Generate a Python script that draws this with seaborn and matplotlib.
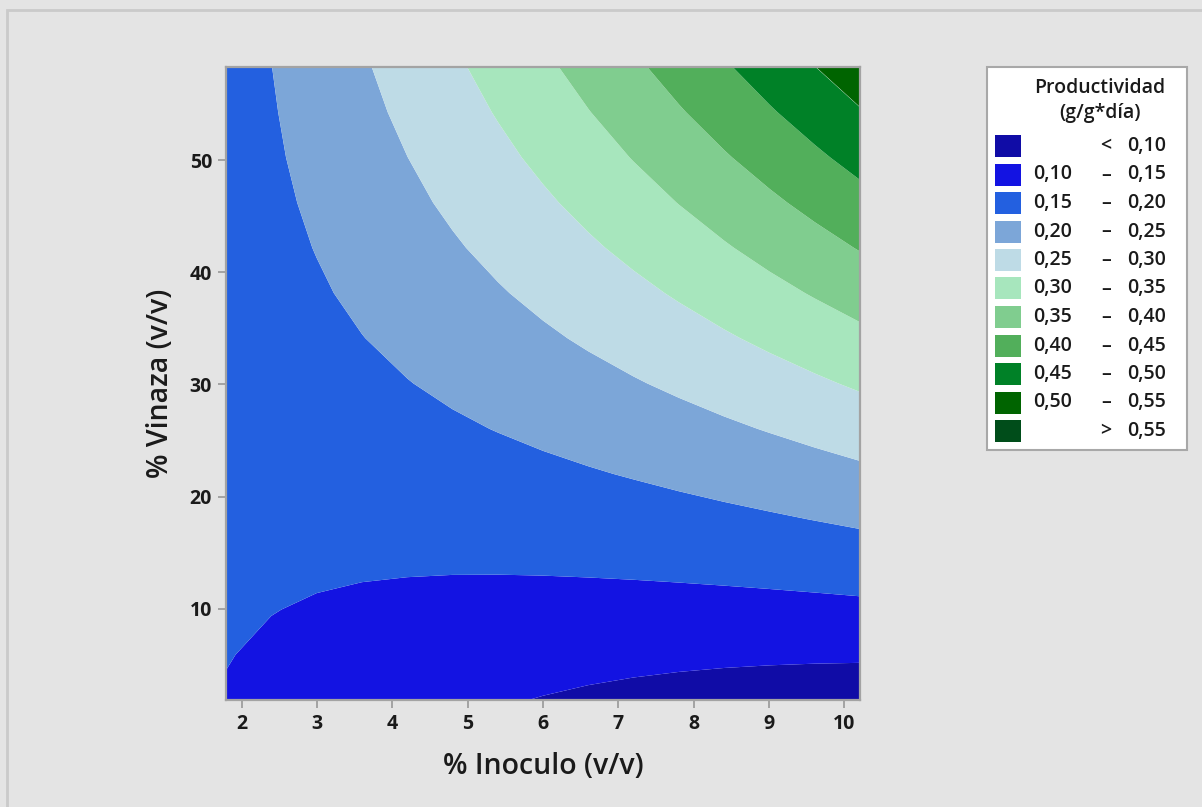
import numpy as np
import matplotlib
matplotlib.use("Agg")
import matplotlib.pyplot as plt
from matplotlib.patches import Rectangle
import seaborn as sns

# Response surface grid: % Inoculo (columns) x % Vinaza (rows)
inoculo = [1.79, 2.391, 2.993, 3.594, 4.196, 4.797, 5.399, 6.0,
           6.601, 7.203, 7.804, 8.406, 9.007, 9.609, 10.21]
vinaza = [1.87, 5.90, 9.93, 13.96, 17.99, 22.02, 26.05, 30.09,
          34.12, 38.15, 42.18, 46.21, 50.24, 54.27, 58.30]
productividad = [
    [0.1475, 0.1390, 0.1311, 0.1236, 0.1165, 0.1100, 0.1039, 0.0982, 0.0930, 0.0883, 0.0841, 0.0803, 0.0770, 0.0742, 0.0718],
    [0.1513, 0.1451, 0.1393, 0.1339, 0.1291, 0.1247, 0.1207, 0.1173, 0.1143, 0.1118, 0.1097, 0.1081, 0.1070, 0.1063, 0.1061],
    [0.1549, 0.1508, 0.1472, 0.1440, 0.1414, 0.1391, 0.1374, 0.1361, 0.1353, 0.1349, 0.1350, 0.1356, 0.1366, 0.1381, 0.1401],
    [0.1583, 0.1563, 0.1549, 0.1539, 0.1534, 0.1533, 0.1537, 0.1546, 0.1560, 0.1578, 0.1601, 0.1628, 0.1660, 0.1697, 0.1738],
    [0.1613, 0.1616, 0.1623, 0.1635, 0.1651, 0.1673, 0.1698, 0.1729, 0.1764, 0.1804, 0.1848, 0.1898, 0.1951, 0.2010, 0.2073],
    [0.1641, 0.1666, 0.1695, 0.1728, 0.1766, 0.1809, 0.1857, 0.1909, 0.1966, 0.2027, 0.2094, 0.2165, 0.2240, 0.2320, 0.2405],
    [0.1667, 0.1713, 0.1763, 0.1819, 0.1879, 0.1943, 0.2013, 0.2087, 0.2165, 0.2248, 0.2336, 0.2429, 0.2526, 0.2628, 0.2735],
    [0.1690, 0.1757, 0.1830, 0.1907, 0.1988, 0.2075, 0.2166, 0.2261, 0.2362, 0.2467, 0.2576, 0.2691, 0.2810, 0.2933, 0.3061],
    [0.1710, 0.1799, 0.1893, 0.1992, 0.2095, 0.2203, 0.2316, 0.2434, 0.2556, 0.2682, 0.2814, 0.2950, 0.3090, 0.3236, 0.3386],
    [0.1727, 0.1839, 0.1954, 0.2075, 0.2200, 0.2330, 0.2464, 0.2603, 0.2747, 0.2895, 0.3048, 0.3206, 0.3369, 0.3536, 0.3707],
    [0.1742, 0.1875, 0.2013, 0.2155, 0.2302, 0.2453, 0.2609, 0.2770, 0.2936, 0.3106, 0.3280, 0.3460, 0.3644, 0.3833, 0.4026],
    [0.1755, 0.1909, 0.2068, 0.2232, 0.2401, 0.2574, 0.2752, 0.2934, 0.3122, 0.3313, 0.3510, 0.3711, 0.3917, 0.4127, 0.4343],
    [0.1764, 0.1941, 0.2122, 0.2307, 0.2497, 0.2692, 0.2892, 0.3096, 0.3305, 0.3519, 0.3737, 0.3960, 0.4187, 0.4419, 0.4656],
    [0.1771, 0.1969, 0.2172, 0.2379, 0.2591, 0.2808, 0.3029, 0.3255, 0.3486, 0.3721, 0.3961, 0.4206, 0.4455, 0.4709, 0.4967],
    [0.1776, 0.1996, 0.2220, 0.2449, 0.2683, 0.2921, 0.3164, 0.3412, 0.3664, 0.3921, 0.4183, 0.4449, 0.4720, 0.4995, 0.5276],
]

level_bounds = [0.10, 0.15, 0.20, 0.25, 0.30, 0.35, 0.40, 0.45, 0.50, 0.55]
colors = ["#100CA6", "#1313E2", "#2360E0", "#7CA6D8", "#BEDBE6", "#A7E6BD",
          "#80CD8F", "#52AF5B", "#008127", "#006400", "#004D1A"]
x_ticks = [2, 3, 4, 5, 6, 7, 8, 9, 10]
y_ticks = [10, 20, 30, 40, 50]

sns.set_theme(style="white")
plt.rcParams["font.family"] = ["Open Sans", "DejaVu Sans"]

W, H = 1202, 807


def fx(px):
    return px / W


def fy(py):
    return 1 - py / H


fig = plt.figure(figsize=(W / 100, H / 100), dpi=100, facecolor="#E4E4E4")
fig.patches.append(Rectangle((fx(7), -0.1), 1.2, fy(10) + 0.1, transform=fig.transFigure,
                             facecolor="none", edgecolor="#CACACA", lw=2))

ax = fig.add_axes([fx(226), fy(700), fx(860) - fx(226), fy(67) - fy(700)])
GX, GY = np.meshgrid(inoculo, vinaza)
Z = np.array(productividad)
levels = [-10] + level_bounds + [10]
ax.contourf(GX, GY, Z, levels=levels, colors=colors, antialiased=True)
ax.set_xlim(inoculo[0], inoculo[-1])
ax.set_ylim(vinaza[0], vinaza[-1])
ax.set_xticks(x_ticks)
ax.set_yticks(y_ticks)
for s in ax.spines.values():
    s.set_color("#A3A3A3")
    s.set_linewidth(1.6)
ax.tick_params(axis="both", direction="out", length=6, width=1.4, color="#A3A3A3",
               labelsize=14, pad=4, bottom=True, left=True, labelcolor="#1A1A1A")
for lab in ax.get_xticklabels() + ax.get_yticklabels():
    lab.set_fontweight("bold")
ax.set_xlabel("% Inoculo (v/v)", fontsize=20.5, fontweight="semibold", va="center",
              color="#1A1A1A")
ax.set_ylabel("% Vinaza (v/v)", fontsize=20.5, fontweight="semibold", va="center",
              color="#1A1A1A")
ax.xaxis.set_label_coords(0.5, -(766 - 700) / 633)
ax.yaxis.set_label_coords((160 - 226) / 634, 0.5)

# legend box
fig.patches.append(Rectangle((fx(987), fy(450)), fx(1187) - fx(987), fy(67) - fy(450),
                             transform=fig.transFigure, facecolor="white",
                             edgecolor="#A8A8A8", lw=1.5))
fig.text(fx(1100), fy(88), "Productividad", ha="center", va="center",
         fontsize=14, fontweight="semibold", color="#1A1A1A")
fig.text(fx(1100), fy(113), "(g/g*día)", ha="center", va="center",
         fontsize=14, fontweight="semibold", color="#1A1A1A")


def fmt(v):
    return f"{v:.2f}".replace(".", ",")


row0, step = 146, 28.5
for i, col in enumerate(colors):
    cy = row0 + i * step
    fig.patches.append(Rectangle((fx(995), fy(cy + 11)), fx(1021) - fx(995),
                                 fy(cy - 11) - fy(cy + 11),
                                 transform=fig.transFigure, facecolor=col, edgecolor="none"))
    if i == 0:
        mid, left, right = "<", "", fmt(level_bounds[0])
    elif i == len(colors) - 1:
        mid, left, right = ">", "", fmt(level_bounds[-1])
    else:
        mid, left, right = "–", fmt(level_bounds[i - 1]), fmt(level_bounds[i])
    kw = dict(va="center", fontsize=14, fontweight="semibold", color="#1A1A1A")
    if left:
        fig.text(fx(1033), fy(cy), left, ha="left", **kw)
    fig.text(fx(1106), fy(cy), mid, ha="center", **kw)
    fig.text(fx(1127), fy(cy), right, ha="left", **kw)

fig.savefig("out.png", dpi=100, facecolor=fig.get_facecolor())
